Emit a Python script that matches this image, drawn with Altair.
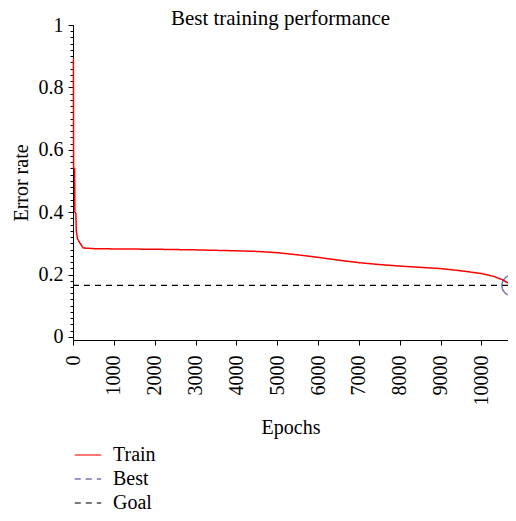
import altair as alt
import pandas as pd

# Training curve (epoch, error rate)
epochs = [0, 10, 15, 40, 45, 70, 80, 110, 150, 200, 250, 500, 1000, 2000, 3000,
          4000, 4500, 5000, 5500, 6000, 6500, 7000, 7500, 8000, 8500, 9000,
          9500, 10000, 10300, 10500, 10650, 10750]
errors = [0.89, 0.89, 0.54, 0.54, 0.40, 0.395, 0.34, 0.315, 0.305, 0.295, 0.285,
          0.283, 0.282, 0.281, 0.279, 0.276, 0.274, 0.270, 0.263, 0.255, 0.246,
          0.238, 0.232, 0.227, 0.223, 0.219, 0.212, 0.203, 0.194, 0.184, 0.173,
          0.165]

goal_value = 0.165
best_epoch = 10750
best_value = 0.165

series_names = ["Train", "Best", "Goal"]
series_colors = ["#ff0000", "#3a3aa3", "#000000"]
series_dashes = [[1, 0], [6, 5], [6, 5]]

x_ticks = list(range(0, 10001, 1000))
y_ticks = [0, 0.2, 0.4, 0.6, 0.8, 1]
y_minor = [round(i * 0.02, 2) for i in range(51)]

FONT = "Liberation Serif"
FS = 20

train_df = pd.DataFrame({"epoch": epochs, "err": errors, "series": "Train"})
goal_df = pd.DataFrame({"err": [goal_value], "series": ["Goal"]})
best_df = pd.DataFrame({"epoch": [best_epoch], "err": [best_value], "series": ["Best"]})

xscale = alt.Scale(domain=[0, 10650], nice=False, zero=False)
yscale = alt.Scale(domain=[-0.01, 1], nice=False, zero=False)
cscale = alt.Scale(domain=series_names, range=series_colors)
dscale = alt.Scale(domain=series_names, range=series_dashes)

legend = alt.Legend(
    title=None, orient="none", legendX=1, legendY=416, symbolType="stroke",
    symbolSize=700, symbolStrokeWidth=1.3, labelFont=FONT, labelFontSize=FS,
    labelColor="#000000", labelOffset=11, rowPadding=-4, direction="vertical",
)

xaxis = alt.Axis(values=x_ticks, labelAngle=270, labelAlign="right",
                 labelBaseline="middle", labelFont=FONT, labelFontSize=FS,
                 labelColor="#000", title="Epochs", titleFont=FONT,
                 titleFontSize=FS, titleFontWeight="normal", titleColor="#000",
                 titlePadding=12, tickSize=5, tickColor="#000", domainColor="#000",
                 labelPadding=10, grid=False, labelFlush=False, labelOverlap=False,
                 format="d")

yaxis = alt.Axis(values=y_ticks, labelFont=FONT, labelFontSize=FS,
                 labelColor="#000", title="Error rate", titleFont=FONT,
                 titleFontSize=FS, titleFontWeight="normal", titleColor="#000",
                 tickSize=5, tickColor="#000", domainColor="#000", orient="left",
                 labelPadding=5, grid=False, labelFlush=False, labelOverlap=False,
                 format="~g", titlePadding=7)

yminor = alt.Axis(values=y_minor, labels=False, ticks=True, tickSize=3,
                  tickColor="#000", domain=False, grid=False, title=None,
                  orient="left")

train = alt.Chart(train_df).mark_line(strokeWidth=1.5).encode(
    x=alt.X("epoch:Q", scale=xscale, axis=xaxis),
    y=alt.Y("err:Q", scale=yscale, axis=yaxis),
    color=alt.Color("series:N", scale=cscale, legend=legend),
    strokeDash=alt.StrokeDash("series:N", scale=dscale, legend=legend),
)

goal = alt.Chart(goal_df).mark_rule(strokeWidth=1.3).encode(
    y=alt.Y("err:Q", scale=yscale, axis=yminor),
    color=alt.Color("series:N", scale=cscale, legend=legend),
    strokeDash=alt.StrokeDash("series:N", scale=dscale, legend=legend),
)

best = alt.Chart(best_df).mark_point(shape="circle", filled=False, size=420,
                                     strokeWidth=1.3).encode(
    x=alt.X("epoch:Q", scale=xscale),
    y=alt.Y("err:Q", scale=yscale, axis=None),
    color=alt.Color("series:N", scale=cscale, legend=legend),
)

chart = alt.layer(goal, train, best).resolve_axis(y="independent").properties(
    width=435, height=315,
    autosize=alt.AutoSizeParams(type="none"),
    padding={"left": 65, "top": 17, "right": 0, "bottom": 173},
    background="white",
    title=alt.TitleParams("Best training performance", font=FONT, fontSize=21,
                          fontWeight="normal", color="#000", anchor="middle",
                          offset=-14, dx=-10),
).configure_view(stroke=None)

chart.save("out.html", embed_options={"renderer": "svg", "actions": False})
